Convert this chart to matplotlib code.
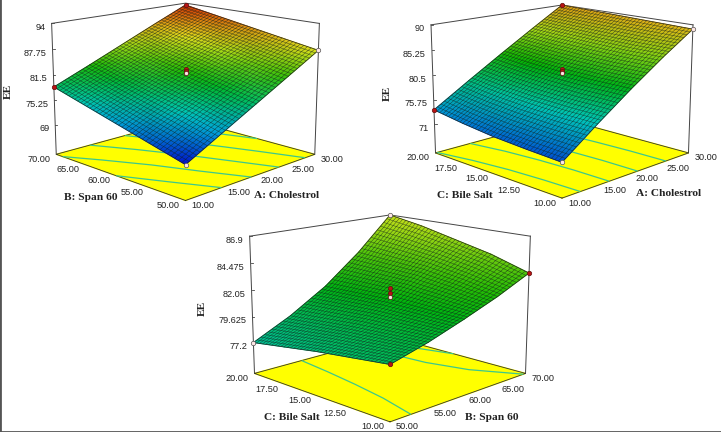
import matplotlib
matplotlib.use("Agg")
import matplotlib.pyplot as plt
from matplotlib.colors import LinearSegmentedColormap, Normalize
import numpy as np

# tick values of the three factors and the EE axes
cholestrol_ticks = [10.0, 15.0, 20.0, 25.0, 30.0]
span_ticks = [50.0, 55.0, 60.0, 65.0, 70.0]
bile_ticks = [10.0, 12.5, 15.0, 17.5, 20.0]
ee_ticks_1 = [69, 75.25, 81.5, 87.75, 94]
ee_ticks_2 = [71, 75.75, 80.5, 85.25, 90]
ee_ticks_3 = [77.2, 79.625, 82.05, 84.475, 86.9]

ee_span_chol = [[69.5, 74.0, 78.5, 83.0, 87.5],
                [71.75, 76.25, 80.4, 84.7, 89.0],
                [74.0, 78.1, 82.2, 86.4, 90.5],
                [76.25, 80.1, 84.0, 88.0, 92.0],
                [78.5, 82.2, 86.0, 89.8, 93.5]]
ee_bile_chol = [[71.5, 76.3, 80.9, 85.2, 89.2],
                [71.8, 76.4, 80.9, 85.2, 89.4],
                [72.2, 76.7, 81.1, 85.4, 89.6],
                [72.9, 77.2, 81.5, 85.7, 89.8],
                [73.8, 78.0, 82.1, 86.1, 90.0]]
ee_bile_span = [[79.0, 79.9, 81.0, 82.2, 83.6],
                [78.6, 79.7, 81.1, 82.8, 84.7],
                [78.2, 79.5, 81.2, 83.3, 85.5],
                [77.7, 79.2, 81.1, 83.5, 86.3],
                [77.2, 78.9, 81.0, 83.7, 86.9]]

# design points: centre replicates, and which corners (front, right, left, back) sit above the surface
centre_1 = [82.9, 82.4, 81.9]
centre_2 = [81.7, 81.3, 80.9]
centre_3 = [82.2, 81.8, 81.4]
corner_red_1 = [False, False, True, True]
corner_red_2 = [False, False, True, True]
corner_red_3 = [True, True, False, False]

contours_1 = [74, 78, 82, 86, 90]
contours_2 = [74, 78, 82, 86]
contours_3 = [79.5, 83.5, 85.5]

ee_cmap = LinearSegmentedColormap.from_list(
    "ee", ["#0000c8", "#00c8e0", "#00b400", "#e6e61e", "#d21e00"])
ee_norm = Normalize(69, 94)

ELEV = np.radians(14)
DIST = 5.0
BOX_H = 0.725
FLOOR_GAP = 0.3  # floor sits this fraction of the EE range under the lowest tick
SERIF = "Liberation Serif"
SANS = "Liberation Sans"


def project(u, v, w, cx, cy, scale):
    # u, v, w are 0-1 box coordinates, returns picture position
    u, v, w = np.asarray(u, float), np.asarray(v, float), np.asarray(w, float)
    r = ((u - 0.5) - (v - 0.5)) / np.sqrt(2)
    d = ((u - 0.5) + (v - 0.5)) / np.sqrt(2)
    z = (w - 0.5) * BOX_H
    depth = d * np.cos(ELEV) - z * np.sin(ELEV)
    up = d * np.sin(ELEV) + z * np.cos(ELEV)
    p = DIST / (DIST + depth)
    return cx + scale * r * p, cy - scale * up * p


def panel(ax, right_ticks, left_ticks, ee_ticks, table, centre, corner_red, levels,
          cx, cy, scale, right_label, left_label, ee_pos):
    table = np.array(table)
    top = ee_ticks[-1]
    floor = ee_ticks[0] - FLOOR_GAP * (top - ee_ticks[0])
    w_of = lambda ee: (np.asarray(ee, float) - floor) / (top - floor)
    us = (np.array(right_ticks) - right_ticks[0]) / (right_ticks[-1] - right_ticks[0])
    vs = (np.array(left_ticks) - left_ticks[0]) / (left_ticks[-1] - left_ticks[0])
    uu, vv = np.meshgrid(us, vs)

    def proj(u, v, w):
        return project(u, v, w, cx, cy, scale)

    # floor with its contours
    fx, fy = proj([0, 1, 1, 0, 0], [0, 0, 1, 1, 0], [0, 0, 0, 0, 0])
    ax.fill(fx, fy, color="#ffff00", zorder=1)
    ax.plot(fx, fy, color="#333333", lw=0.6, zorder=2)
    gx, gy = proj(uu, vv, np.zeros_like(uu))
    ax.contour(gx, gy, table, levels=levels, colors="#3cc88c", linewidths=0.9, zorder=2)

    # back of the box
    for u, v in [(0, 1), (1, 0), (1, 1)]:
        ex, ey = proj([u, u], [v, v], [0, 1])
        ax.plot(ex, ey, color="#444444", lw=0.7, zorder=1.5)
    ex, ey = proj([0, 1, 1], [1, 1, 0], [1, 1, 1])
    ax.plot(ex, ey, color="#444444", lw=0.7, zorder=1.5)

    # surface, mesh lines come from contouring the two factors over the projected grid
    sx, sy = proj(uu, vv, w_of(table))
    ax.pcolormesh(sx, sy, table, shading="gouraud", cmap=ee_cmap, norm=ee_norm, zorder=3)
    mesh = np.linspace(0, 1, 41)[1:-1]
    ax.contour(sx, sy, uu, levels=mesh, colors="#10201a", linewidths=0.35, alpha=0.75, zorder=4)
    ax.contour(sx, sy, vv, levels=mesh, colors="#10201a", linewidths=0.35, alpha=0.75, zorder=4)
    edge_x = np.r_[sx[0], sx[1:, -1], sx[-1, -2::-1], sx[-2::-1, 0]]
    edge_y = np.r_[sy[0], sy[1:, -1], sy[-1, -2::-1], sy[-2::-1, 0]]
    ax.plot(edge_x, edge_y, color="#222222", lw=0.5, zorder=4)

    # design points
    corners = [(0, 0), (-1, 0), (0, -1), (-1, -1)]  # column, row of table
    for (col, row), red in zip(corners, corner_red):
        ax.plot(sx[row, col], sy[row, col], "o", ms=3.2,
                mfc="#b81414" if red else "#ffe6e6",
                mec="#601010" if red else "#555555", mew=0.5, zorder=6)
    mx, my = proj(np.full(3, 0.5), np.full(3, 0.5), w_of(centre))
    ax.plot(mx, my, color="#444444", lw=0.6, zorder=5)
    for i, (x, y) in enumerate(zip(mx, my)):
        ax.plot(x, y, "o", ms=3.0, mfc="#ffe6e6" if i == 2 else "#b81414",
                mec="#601010", mew=0.5, zorder=6)

    # tick labels
    for val, u in zip(right_ticks, us):
        x, y = proj(u, 0, 0)
        ax.text(x + 6, y + 5, "%.2f" % val, ha="left", va="center",
                family=SANS, fontsize=6.6, color="#222222", zorder=7)
    for val, v in zip(left_ticks, vs):
        x, y = proj(0, v, 0)
        ax.text(x - 6, y + 5, "%.2f" % val, ha="right", va="center",
                family=SANS, fontsize=6.6, color="#222222", zorder=7)
    for val in ee_ticks:
        x, y = proj(0, 1, w_of(val))
        ax.plot([x, x + 2], [y, y], color="#444444", lw=0.6, zorder=2)
        ax.text(x - 6, y + 4, "%g" % val, ha="right", va="center",
                family=SANS, fontsize=6.6, color="#222222", zorder=7)

    ax.text(*right_label[1], right_label[0], ha="center", va="center", family=SERIF,
            weight="bold", fontsize=8.2, color="#222222", zorder=7)
    ax.text(*left_label[1], left_label[0], ha="center", va="center", family=SERIF,
            weight="bold", fontsize=8.2, color="#222222", zorder=7)
    ax.text(*ee_pos, "EE", ha="center", va="center", rotation=90, family=SERIF,
            weight="bold", fontsize=8.2, color="#222222", zorder=7)


fig = plt.figure(figsize=(7.21, 4.32), dpi=100)
ax = fig.add_axes([0, 0, 1, 1])
ax.set_xlim(0, 721)
ax.set_ylim(432, 0)
ax.set_xticks([])
ax.set_yticks([])
for side in ["top", "right"]:
    ax.spines[side].set_visible(False)
for side in ["left", "bottom"]:
    ax.spines[side].set_color("#555555")
    ax.spines[side].set_linewidth(2)

panel(ax, cholestrol_ticks, span_ticks, ee_ticks_1, ee_span_chol, centre_1, corner_red_1,
      contours_1, 185.5, 90, 186,
      ("A: Cholestrol", (287, 195)), ("B: Span 60", (91, 198)), (8, 91))
panel(ax, cholestrol_ticks, bile_ticks, ee_ticks_2, ee_bile_chol, centre_2, corner_red_2,
      contours_2, 562, 90, 182,
      ("A: Cholestrol", (669, 193)), ("C: Bile Salt", (465, 195)), (387, 93))
panel(ax, span_ticks, bile_ticks, ee_ticks_3, ee_bile_span, centre_3, corner_red_3,
      contours_3, 390, 306, 195,
      ("B: Span 60", (492, 418)), ("C: Bile Salt", (292, 418)), (202, 308))

fig.savefig("out.png", dpi=100)
